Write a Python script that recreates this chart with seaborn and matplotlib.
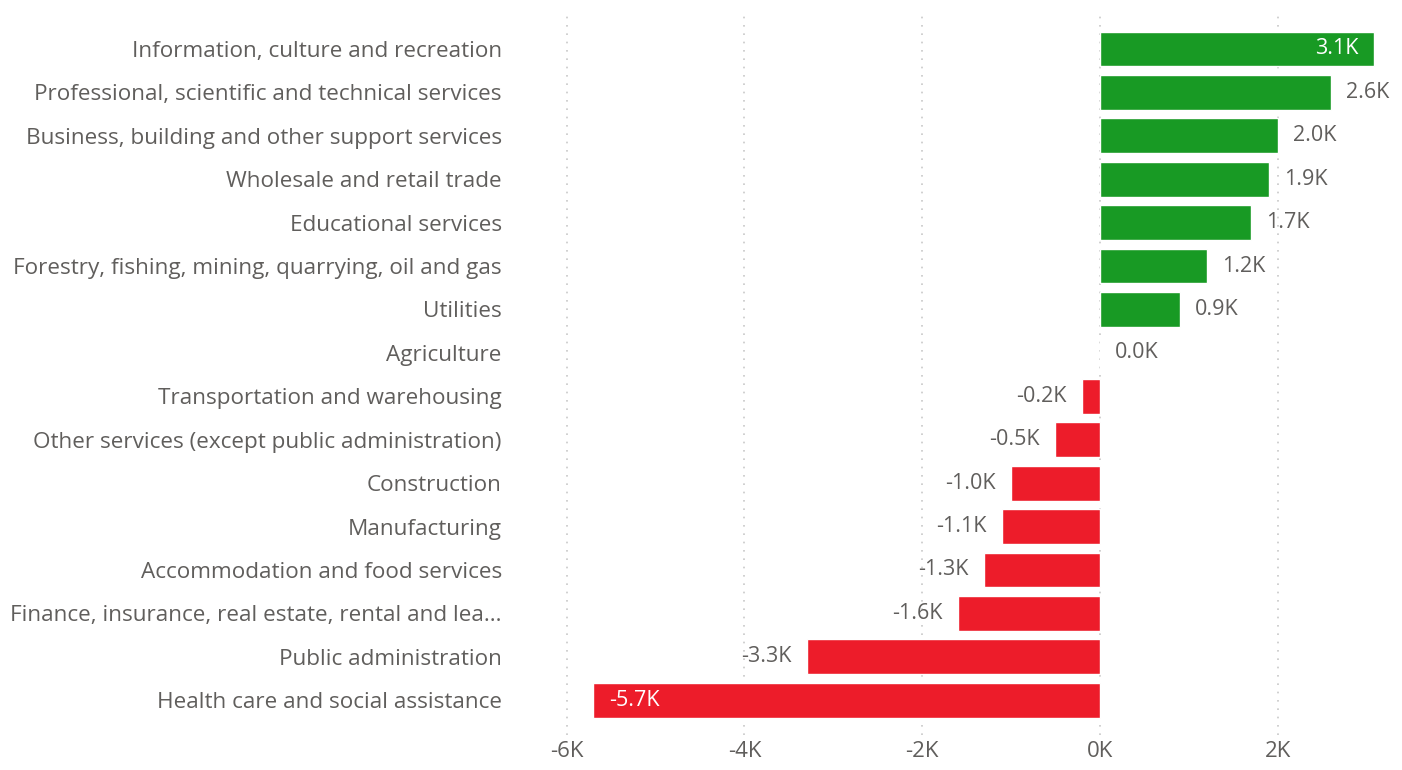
import matplotlib
matplotlib.use('Agg')
import matplotlib.pyplot as plt
import seaborn as sns
import pandas as pd

industries = [
    'Information, culture and recreation',
    'Professional, scientific and technical services',
    'Business, building and other support services',
    'Wholesale and retail trade',
    'Educational services',
    'Forestry, fishing, mining, quarrying, oil and gas',
    'Utilities',
    'Agriculture',
    'Transportation and warehousing',
    'Other services (except public administration)',
    'Construction',
    'Manufacturing',
    'Accommodation and food services',
    'Finance, insurance, real estate, rental and lea...',
    'Public administration',
    'Health care and social assistance',
]
change_k = [3.08, 2.60, 2.00, 1.90, 1.70, 1.20, 0.90, 0.0,
            -0.20, -0.51, -1.00, -1.10, -1.30, -1.60, -3.30, -5.70]
x_ticks = [-6, -4, -2, 0, 2]

GREEN = '#189A24'
RED = '#ED1C2A'
GREY = '#605E5C'

df = pd.DataFrame({'industry': industries, 'change': change_k})
df['sign'] = ['pos' if v >= 0 else 'neg' for v in df['change']]

sns.set_style('white')
plt.rcParams['font.family'] = ['Open Sans', 'DejaVu Sans']

fig = plt.figure(figsize=(14.02, 7.70), dpi=100)
ax = fig.add_axes([549 / 1402, 35 / 770, 853 / 1402, 723 / 770])

sns.barplot(data=df, y='industry', x='change', hue='sign',
            palette={'pos': GREEN, 'neg': RED}, dodge=False,
            width=0.8, legend=False, ax=ax, saturation=1, zorder=3)

ax.set_xlim(-6.2, 3.4)
ax.set_ylim(15.8, -0.85)
ax.set_xticks(x_ticks)
ax.set_xticklabels([f'{t}K' for t in x_ticks])
ax.tick_params(axis='x', length=0, pad=4, labelsize=16, labelcolor=GREY)
ax.tick_params(axis='y', length=0, pad=34, labelsize=16.2, labelcolor=GREY)
ax.set_xlabel('')
ax.set_ylabel('')
for s in ax.spines.values():
    s.set_visible(False)
for t in x_ticks:
    ax.axvline(t, color='#C8C8C8', linestyle=(0, (1, 4)), linewidth=1.2, zorder=1)

# data labels, Power BI style: inside end for the two longest bars
for i, v in enumerate(change_k):
    txt = f'{v:.1f}K'
    inside = v > 3.0 or v < -5.0
    if inside:
        off = -11 if v > 0 else 11
        ha = 'right' if v > 0 else 'left'
        col = 'white'
    else:
        off = 11 if v >= 0 else -11
        ha = 'left' if v >= 0 else 'right'
        col = GREY
    ax.annotate(txt, (v, i), xytext=(off, 0), textcoords='offset points',
                ha=ha, va='center', fontsize=15.5, color=col, zorder=4)

fig.savefig('out.png', dpi=100)
